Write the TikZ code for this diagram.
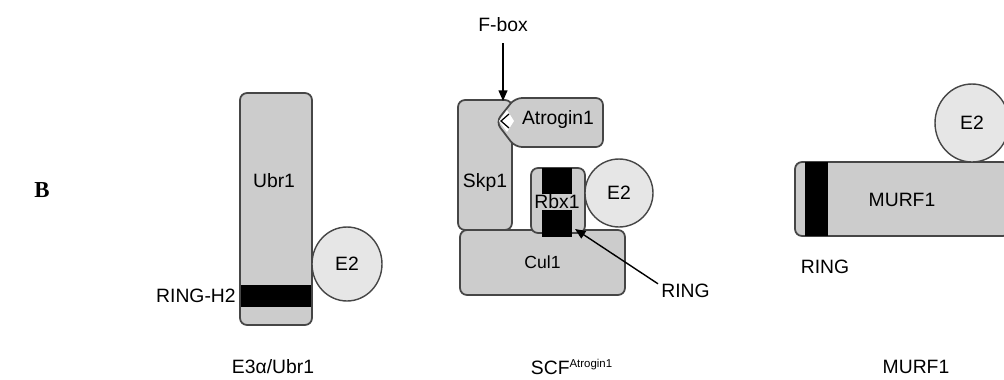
\documentclass[tikz,border=0pt]{standalone}
\usepackage{fontspec}
\setmainfont{Liberation Sans}
\newfontfamily\serifb{Liberation Serif}
\usetikzlibrary{
    arrows.meta,
    shapes.geometric
}
\definecolor{domgray}{RGB}{204,204,204}
\definecolor{e2gray}{RGB}{230,230,230}
\definecolor{edgegray}{RGB}{70,70,70}
\tikzset{
  dom/.style     = {draw=edgegray, fill=domgray, rounded corners=4pt,
                    line width=1pt, inner sep=0pt},
  ringbox/.style = {fill=black, inner sep=0pt},
  e2/.style      = {ellipse, draw=edgegray, fill=e2gray, line width=0.8pt,
                    inner sep=0pt, font=\fontsize{11}{13}\selectfont},
  lbl/.style     = {font=\fontsize{11}{13}\selectfont, inner sep=0pt},
  arr/.style     = {-{Triangle[length=6pt,width=5pt]}, line width=0.8pt}
}

\begin{document}
\begin{tikzpicture}[x=0.02cm, y=-0.02cm]
    \clip (0,0) rectangle (1004,379);
    \node[font=\serifb\bfseries\fontsize{13}{15}\selectfont] (panelB) at (42,190) {B};

    % E3alpha / Ubr1
    \node[dom, minimum width=1.44cm, minimum height=4.64cm] (ubr1) at (276,209) {};
    \node[lbl] (ubr1txt) at (274,181) {Ubr1};
    \node[ringbox, minimum width=1.40cm, minimum height=0.44cm] (ringh2) at (276,296) {};
    \node[lbl, anchor=east] (ringh2txt) at (236,296) {RING-H2};
    \node[e2, minimum width=1.40cm, minimum height=1.48cm] (e2a) at (347,264) {E2};
    \node[lbl] (ubrname) at (273,367) {E3α/Ubr1};

    % SCF Atrogin1
    \node[dom, minimum width=3.30cm, minimum height=1.30cm] (cul1) at (542.5,262.5) {Cul1};
    \node[dom, minimum width=1.08cm, minimum height=2.60cm] (skp1) at (485,165) {};
    \node[lbl] (skp1txt) at (485,182) {Skp1};
    \draw[dom] (515,98) -- (603,98) -- (603,147) -- (515,147) -- (496,122) -- cycle;
    \fill[white] (499,121) -- (507,110) -- (514,121) -- (507,132) -- cycle;
    \draw[line width=0.7pt] (509,114) -- (501,121) -- (509,128);
    \node[lbl] (atrogin) at (558,120) {Atrogin1};
    \node[dom, minimum width=1.08cm, minimum height=1.30cm] (rbx1) at (558,200.5) {};
    \node[ringbox, minimum width=0.60cm, minimum height=1.38cm] (ringscfbox) at (557,202.5) {};
    \node[lbl, fill=domgray, inner sep=0.6pt] (rbx1txt) at (557,202) {Rbx1};
    \node[e2, circle, minimum size=1.36cm] (e2b) at (619,193) {E2};
    \coordinate (fboxtip) at (503,101);
    \node[lbl] (fbox) at (503,25) {F-box};
    \draw[arr] ([yshift=-0.22cm]fbox.south) -- (fboxtip);
    \coordinate (ringtip) at (575,229);
    \node[lbl, anchor=west] (ringscf) at (661,291) {RING};
    \draw[arr] ([xshift=-0.06cm]ringscf.north west) -- (ringtip);
    \node[lbl] (scfname) at (572,367) {SCF\textsuperscript{\fontsize{6.5}{7}\selectfont Atrogin1}};

    % MURF1
    \node[dom, minimum width=4.30cm, minimum height=1.48cm] (murf) at (902.5,199) {};
    \node[ringbox, minimum width=0.46cm, minimum height=1.48cm] (ringmurf) at (816.5,199) {};
    \node[lbl] (murftxt) at (902,200) {MURF1};
    \node[e2, minimum width=1.48cm, minimum height=1.56cm] (e2c) at (972,123) {E2};
    \node[lbl] (ringmurftxt) at (825,267) {RING};
    \node[lbl] (murfname) at (916,367) {MURF1};
\end{tikzpicture}
\end{document}
